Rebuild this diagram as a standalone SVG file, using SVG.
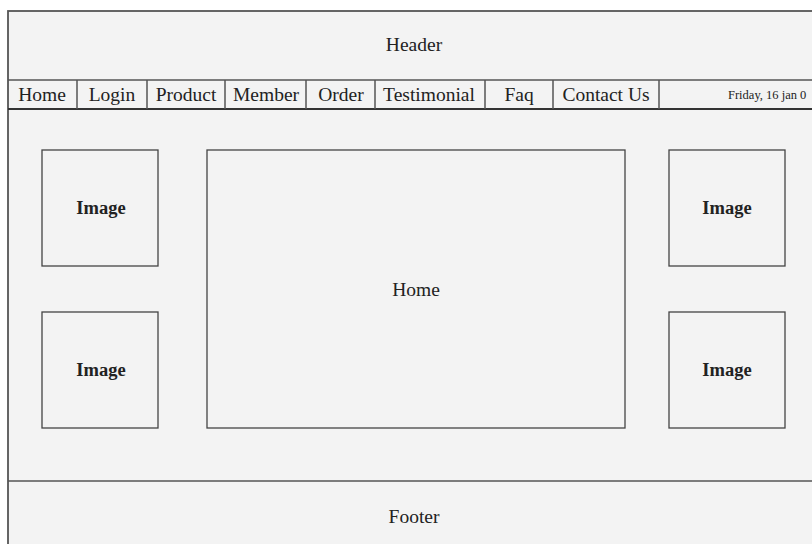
<svg xmlns="http://www.w3.org/2000/svg" width="812" height="544" viewBox="0 0 812 544">
<style>
.ln{stroke:#555;stroke-width:1.5;fill:none}
.bx{stroke:#444;stroke-width:1.3;fill:#f3f3f3}
.t{font-family:"Liberation Serif","Times New Roman",serif;fill:#222;text-anchor:middle}
.nav{font-size:19.5px}
.img{font-size:18.5px;font-weight:bold}
</style>
<rect x="0" y="0" width="812" height="544" fill="#fff"/>
<rect id="frame" x="8" y="11" width="820" height="540" fill="#f3f3f3" stroke="#555" stroke-width="1.8"/>
<g id="header"><text class="t" x="414" y="51" font-size="19.5">Header</text></g>
<g id="nav">
<line class="ln" x1="8" y1="80" x2="812" y2="80"/>
<line x1="8" y1="109" x2="812" y2="109" stroke="#333" stroke-width="2.2"/>
<g class="ln">
<line x1="77" y1="80" x2="77" y2="109"/>
<line x1="147" y1="80" x2="147" y2="109"/>
<line x1="225" y1="80" x2="225" y2="109"/>
<line x1="306" y1="80" x2="306" y2="109"/>
<line x1="375" y1="80" x2="375" y2="109"/>
<line x1="485" y1="80" x2="485" y2="109"/>
<line x1="553" y1="80" x2="553" y2="109"/>
<line x1="659" y1="80" x2="659" y2="109"/>
</g>
<text class="t nav" x="42" y="101">Home</text>
<text class="t nav" x="112" y="101">Login</text>
<text class="t nav" x="186" y="101">Product</text>
<text class="t nav" x="266" y="101">Member</text>
<text class="t nav" x="341" y="101">Order</text>
<text class="t nav" x="429" y="101">Testimonial</text>
<text class="t nav" x="519" y="101">Faq</text>
<text class="t nav" x="606" y="101">Contact Us</text>
<text class="t" x="728" y="99" font-size="12.5" text-anchor="start" style="text-anchor:start">Friday, 16 jan 0</text>
</g>
<g id="img1"><rect class="bx" x="42" y="150" width="116" height="116"/><text class="t img" x="101" y="214">Image</text></g>
<g id="img2"><rect class="bx" x="42" y="312" width="116" height="116"/><text class="t img" x="101" y="376">Image</text></g>
<g id="home"><rect class="bx" x="207" y="150" width="418" height="278"/><text class="t" x="416" y="296" font-size="19.5">Home</text></g>
<g id="img3"><rect class="bx" x="669" y="150" width="116" height="116"/><text class="t img" x="727" y="214">Image</text></g>
<g id="img4"><rect class="bx" x="669" y="312" width="116" height="116"/><text class="t img" x="727" y="376">Image</text></g>
<g id="footer"><line class="ln" x1="8" y1="481" x2="812" y2="481"/><text class="t" x="414" y="523" font-size="19.5">Footer</text></g>
</svg>
